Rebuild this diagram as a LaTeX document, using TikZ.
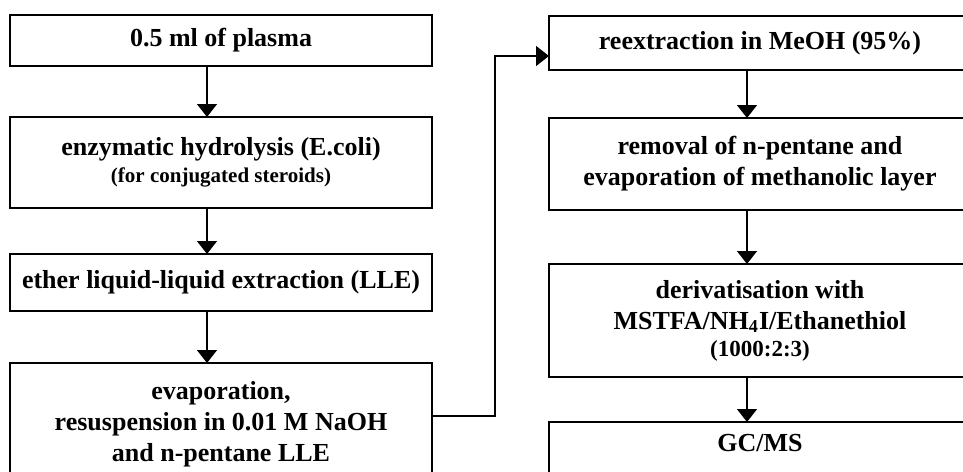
\documentclass[tikz,border=0pt]{standalone}
\usepackage{fontspec}
\setmainfont{Liberation Serif}
\usetikzlibrary{arrows.meta,positioning}

\begin{document}
\begin{tikzpicture}[x=0.5pt,y=-0.5pt,
  stepbox/.style={draw, line width=1pt, minimum width=211pt, inner sep=3pt, outer sep=0pt, align=center, font=\fontsize{13}{15.5}\selectfont\bfseries},
  arr/.style={-{Triangle[length=6.5pt,width=10pt]}, line width=0.7pt}
]
  \useasboundingbox (0,0) rectangle (963,471);
  % left column
  \node[stepbox, minimum height=25.5pt] (plasma) at (221,40.5) {0.5 ml of plasma};
  \node[stepbox, minimum height=45.5pt, below=25.5pt of plasma] (hydro) {enzymatic hydrolysis (E.coli)\\[-2pt]{\fontsize{10.5}{12}\selectfont (for conjugated steroids)}};
  \node[stepbox, minimum height=28.5pt, below=23pt of hydro] (ether) {ether liquid-liquid extraction (LLE)};
  \node[stepbox, minimum height=61pt, below=26pt of ether] (evap) {evaporation,\\resuspension in 0.01 M NaOH\\and n-pentane LLE};
  % right column
  \node[stepbox, minimum height=27pt] (reex) at (760,43) {reextraction in MeOH (95\%)};
  \node[stepbox, minimum height=46pt, below=24pt of reex] (removal) {removal of n-pentane and\\evaporation of methanolic layer};
  \node[stepbox, minimum height=56.5pt, below=27pt of removal] (deriv) {derivatisation with\\MSTFA/NH\textsubscript{4}I/Ethanethiol\\[-2pt]{\fontsize{11.5}{13}\selectfont (1000:2:3)}};
  \node[stepbox, inner ysep=6pt, text depth=25pt, below=22.5pt of deriv] (gcms) {GC/MS};
  % arrows
  \draw[arr] ([xshift=-7pt]plasma.south) -- ([xshift=-7pt]hydro.north);
  \draw[arr] ([xshift=-7pt]hydro.south) -- ([xshift=-7pt]ether.north);
  \draw[arr] ([xshift=-7pt]ether.south) -- ([xshift=-7pt]evap.north);
  \draw[arr] ([yshift=4pt]evap.east) -- ++(31.5pt,0) |- ([yshift=-6.5pt]reex.west);
  \draw[arr] ([xshift=-6.5pt]reex.south) -- ([xshift=-6.5pt]removal.north);
  \draw[arr] ([xshift=-6.5pt]removal.south) -- ([xshift=-6.5pt]deriv.north);
  \draw[arr] ([xshift=-6.5pt]deriv.south) -- ([xshift=-6.5pt]gcms.north);
\end{tikzpicture}
\end{document}
